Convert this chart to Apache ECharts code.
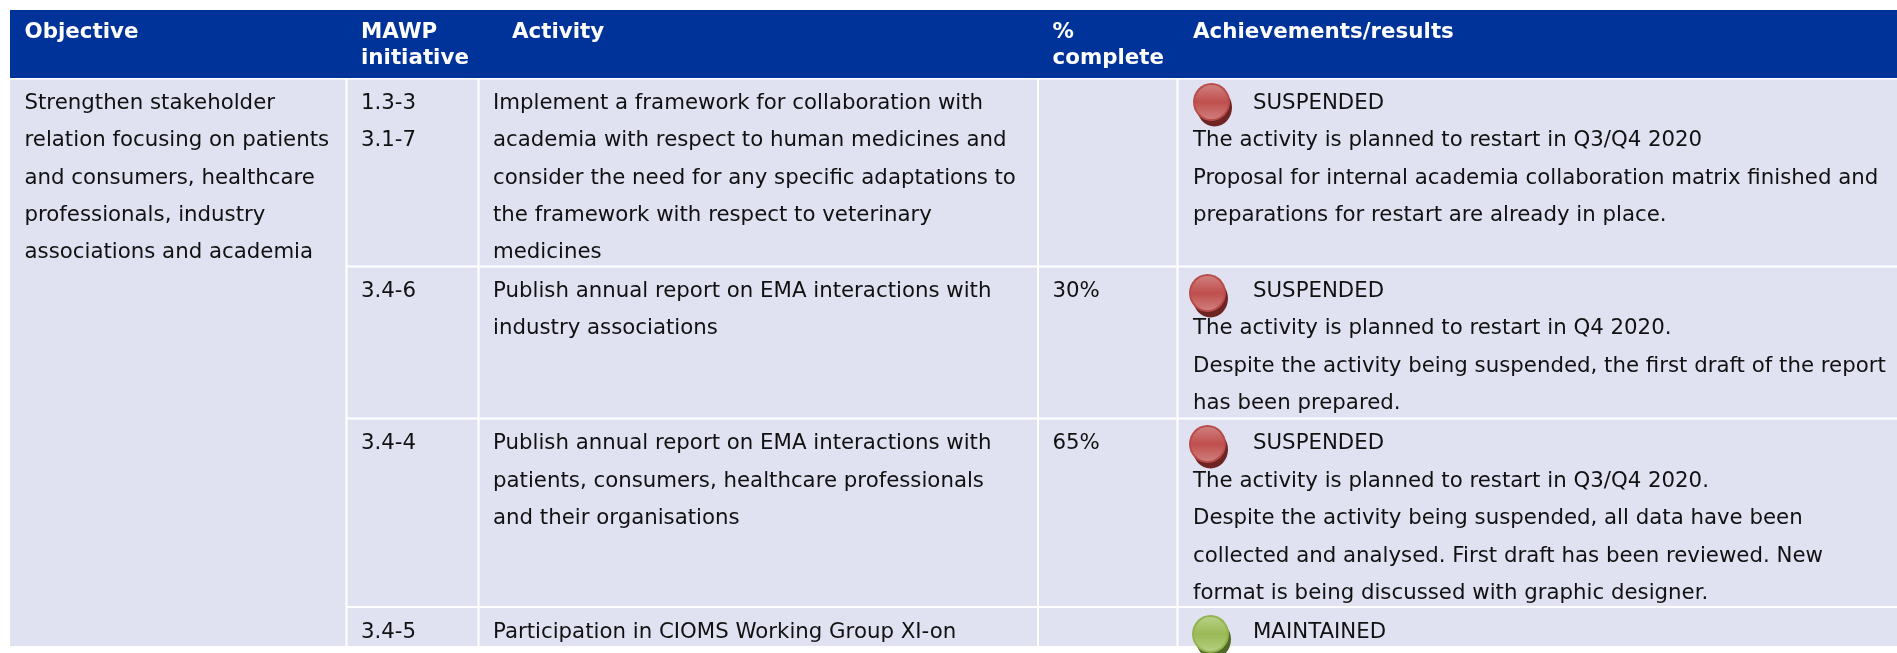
<!DOCTYPE html>
<html>
<head>
<meta charset="utf-8">
<script src="https://cdn.jsdelivr.net/npm/echarts@6/dist/echarts.min.js"></script>
<style>
html,body{margin:0;padding:0;background:#fff}
#main{width:1897px;height:653px}
</style>
</head>
<body>
<div id="main"></div>
<script>
// table content
const headers = [['Objective'], ['MAWP', 'initiative'], ['Activity'], ['%', 'complete'], ['Achievements/results']]
const objective = ['Strengthen stakeholder', 'relation focusing on patients', 'and consumers, healthcare', 'professionals, industry', 'associations and academia']
const initiatives = [['1.3-3', '3.1-7'], ['3.4-6'], ['3.4-4'], ['3.4-5']]
const activities = [
    ['Implement a framework for collaboration with', 'academia with respect to human medicines and', 'consider the need for any specific adaptations to', 'the framework with respect to veterinary', 'medicines'],
    ['Publish annual report on EMA interactions with', 'industry associations'],
    ['Publish annual report on EMA interactions with', 'patients, consumers, healthcare professionals', 'and their organisations'],
    ['Participation in CIOMS Working Group XI-on']
]
const percents = ['', '30%', '65%', '']
const statuses = ['SUSPENDED', 'SUSPENDED', 'SUSPENDED', 'MAINTAINED']
const results = [
    ['The activity is planned to restart in Q3/Q4 2020', 'Proposal for internal academia collaboration matrix finished and', 'preparations for restart are already in place.'],
    ['The activity is planned to restart in Q4 2020.', 'Despite the activity being suspended, the first draft of the report', 'has been prepared.'],
    ['The activity is planned to restart in Q3/Q4 2020.', 'Despite the activity being suspended, all data have been', 'collected and analysed. First draft has been reviewed. New', 'format is being discussed with graphic designer.'],
    []
]

// layout, in axis units (axes run 1:1 over the canvas)
const colEdges = [[10, 345.5], [347.5, 477.5], [479.5, 1037], [1039, 1176.5], [1178.5, 1897]]
const rowEdges = [[79.5, 265.5], [267.5, 417.5], [419.5, 606], [608, 646]]
const headerX = [24.5, 361, 512, 1052.5, 1193]
const bodyX = [24.5, 361, 493, 1052.5, 1193]
const statusX = 1253
const firstLine = [103.3, 291.3, 443.8, 632]
const lineStep = 37.4
const bulletPos = [[1193, 83], [1189, 274], [1189, 425], [1192, 615]]

const FONT = '"DejaVu Sans", Verdana, sans-serif'
const bodyFont = '21.3px ' + FONT
const headFont = 'bold 21.4px ' + FONT

const headerRect = [10, 1897, 10, 78]
let cells = [[colEdges[0][0], colEdges[0][1], rowEdges[0][0], rowEdges[3][1]]]
rowEdges.forEach(r => {
    for (let c = 1; c < colEdges.length; c++) cells.push([colEdges[c][0], colEdges[c][1], r[0], r[1]])
})

let textItems = []
headers.forEach((lines, c) => lines.forEach((t, i) => textItems.push([headerX[c], 32.5 + i * 25.7, t, 1])))
objective.forEach((t, i) => textItems.push([bodyX[0], firstLine[0] + i * lineStep, t, 0]))
firstLine.forEach((y, r) => {
    initiatives[r].forEach((t, i) => textItems.push([bodyX[1], y + i * lineStep, t, 0]))
    activities[r].forEach((t, i) => textItems.push([bodyX[2], y + i * lineStep, t, 0]))
    if (percents[r]) textItems.push([bodyX[3], y, percents[r], 0])
    textItems.push([statusX, y, statuses[r], 0])
    results[r].forEach((t, i) => textItems.push([bodyX[4], y + (i + 1) * lineStep, t, 0]))
})

const bulletData = bulletPos.map((p, i) => [p[0], p[1], statuses[i] === 'MAINTAINED' ? 1 : 0])
const bulletColors = [
    { dark: '#6d2422', rim: '#b84c4a', top: '#d07f7d', mid: '#bf4f4d', low: '#cf7d7b' },
    { dark: '#4f6a24', rim: '#93b34f', top: '#b7d085', mid: '#9ab955', low: '#b4ce80' }
]

function rectItem(params, api) {
    const a = api.coord([api.value(0), api.value(2)])
    const b = api.coord([api.value(1), api.value(3)])
    return { type: 'rect', shape: { x: a[0], y: a[1], width: b[0] - a[0], height: b[1] - a[1] }, style: { fill: api.value(4) ? '#003399' : '#e0e2f2' } }
}

function textItem(params, api) {
    const item = textItems[params.dataIndex]
    const p = api.coord([item[0], item[1]])
    return {
        type: 'text',
        style: { x: p[0], y: p[1], text: item[2], fill: item[3] ? '#ffffff' : '#111111', font: item[3] ? headFont : bodyFont, align: 'left', verticalAlign: 'middle' }
    }
}

function bulletItem(params, api) {
    const p = api.coord([api.value(0), api.value(1)])
    const col = bulletColors[api.value(2)]
    const x = p[0], y = p[1]
    const grad = (stops) => new echarts.graphic.LinearGradient(0, 0, 0, 1, stops)
    return {
        type: 'group',
        children: [
            { type: 'ellipse', shape: { cx: x + 21.5, cy: y + 24.5, rx: 17.5, ry: 19 }, style: { fill: col.dark } },
            { type: 'ellipse', shape: { cx: x + 18.5, cy: y + 19, rx: 18.5, ry: 19 }, style: { fill: col.rim } },
            { type: 'ellipse', shape: { cx: x + 18.5, cy: y + 19, rx: 16.5, ry: 17 }, style: { fill: grad([{ offset: 0, color: col.top }, { offset: 0.5, color: col.mid }, { offset: 1, color: col.low }]) } }
        ]
    }
}

const chart = echarts.init(document.getElementById('main'))
chart.setOption({
    animation: false,
    backgroundColor: '#ffffff',
    grid: { left: 0, right: 0, top: 0, bottom: 0 },
    xAxis: { type: 'value', min: 0, max: 1897, show: false },
    yAxis: { type: 'value', min: 0, max: 653, inverse: true, show: false },
    series: [
        { type: 'custom', silent: true, coordinateSystem: 'cartesian2d', renderItem: rectItem, data: [headerRect.concat(1)].concat(cells.map(c => c.concat(0))), encode: { x: [0, 1], y: [2, 3] } },
        { type: 'custom', silent: true, coordinateSystem: 'cartesian2d', renderItem: bulletItem, data: bulletData, encode: { x: 0, y: 1 }, clip: false },
        { type: 'custom', silent: true, coordinateSystem: 'cartesian2d', renderItem: textItem, data: textItems.map(t => [t[0], t[1]]), encode: { x: 0, y: 1 }, clip: false }
    ]
})
</script>
</body>
</html>
